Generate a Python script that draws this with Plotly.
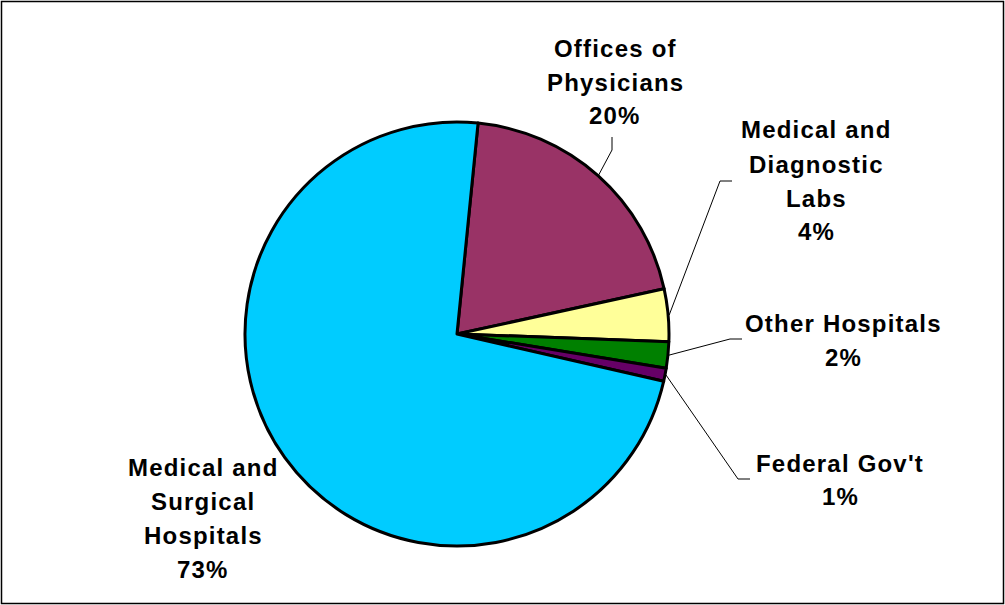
import math
import plotly.graph_objects as go

W, H = 1005, 605

# Data
categories = [
    "Offices of Physicians",
    "Medical and Diagnostic Labs",
    "Other Hospitals",
    "Federal Gov't",
    "Medical and Surgical Hospitals",
]
shares = [20, 4, 2, 1, 73]
colors = ["#993366", "#FFFF99", "#008000", "#660066", "#00CCFF"]
label_lines = [
    ["Offices of", "Physicians"],
    ["Medical and", "Diagnostic", "Labs"],
    ["Other Hospitals"],
    ["Federal Gov't"],
    ["Medical and", "Surgical", "Hospitals"],
]

# Layout (pixels)
CX, CY, R = 457, 334, 212
ROTATION = 5.7
LINE_H = 34
label_top = [(615, 48), (816, 130), (843, 323), (840, 463), (203, 467)]
# leader: (outer end, elbow) in pixels, None = no leader
leaders = [
    ((612, 137), (612, 150)),
    ((732, 181), (720, 181)),
    ((742, 339), (730, 339)),
    ((750, 479), (738, 479)),
    None,
]


def px(x):
    return x / W


def py(y):
    return 1 - y / H


fig = go.Figure(
    go.Pie(
        labels=categories,
        values=shares,
        sort=False,
        direction="clockwise",
        rotation=ROTATION,
        marker=dict(colors=colors, line=dict(color="#000000", width=3)),
        textinfo="none",
        hoverinfo="label+percent",
        showlegend=False,
        domain=dict(x=[px(CX - R), px(CX + R)], y=[py(CY + R), py(CY - R)]),
    )
)

font = dict(family="Liberation Sans, Arial, sans-serif", size=24, color="#000000", weight="bold")
annotations = []
shapes = []
total = sum(shares)
cum = 0.0
for i, (lines, v) in enumerate(zip(label_lines, shares)):
    mid = ROTATION + 360.0 * (cum + v / 2) / total
    cum += v
    pct = round(100.0 * v / total)
    all_lines = lines + [f"{pct}%"]
    lx, ly = label_top[i]
    for k, t in enumerate(all_lines):
        annotations.append(dict(
            x=px(lx), y=py(ly + k * LINE_H), xref="paper", yref="paper",
            xanchor="center", yanchor="middle", showarrow=False,
            text=f"<span style='letter-spacing:1.2px'>{t}</span>",
            font=font,
        ))
    if leaders[i] is not None:
        (ox, oy), (ex, ey) = leaders[i]
        a = math.radians(mid)
        ex2 = CX + (R + 1) * math.sin(a)
        ey2 = CY - (R + 1) * math.cos(a)
        shapes.append(dict(
            type="path", xref="paper", yref="paper",
            path=f"M {px(ox)} {py(oy)} L {px(ex)} {py(ey)} L {px(ex2)} {py(ey2)}",
            line=dict(color="#000000", width=1),
        ))

# chart frame
shapes.append(dict(
    type="rect", xref="paper", yref="paper",
    x0=px(1.5), x1=px(1003.5), y0=py(603.5), y1=py(1.5),
    line=dict(color="#000000", width=1.5),
))

fig.update_layout(
    width=W, height=H,
    margin=dict(l=0, r=0, t=0, b=0, pad=0),
    paper_bgcolor="#FFFFFF",
    plot_bgcolor="#FFFFFF",
    annotations=annotations,
    shapes=shapes,
)

fig.write_html("out.html")
